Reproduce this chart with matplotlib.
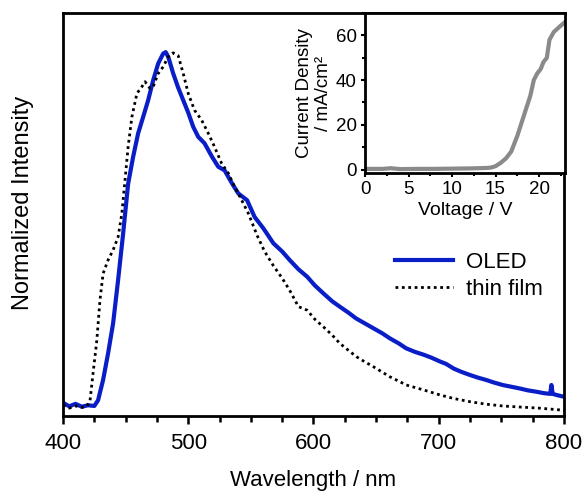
import matplotlib
matplotlib.use("Agg")
import matplotlib.pyplot as plt
from matplotlib.ticker import MultipleLocator

plt.rcParams['font.family'] = ['Liberation Sans', 'DejaVu Sans']

# OLED electroluminescence spectrum (normalized)
oled_wl = [400, 405, 410, 415, 420, 425, 428, 432, 436, 440, 444, 448, 452, 456, 460, 464,
           468, 472, 476, 480, 482, 484, 488, 492, 496, 500, 504, 508, 513, 519, 524, 529,
           535, 540, 547, 553, 560, 568, 575, 581, 588, 595, 601, 608, 615, 621, 628, 634,
           641, 648, 655, 661, 668, 674, 681, 688, 694, 701, 706, 712, 718, 725, 731, 738,
           744, 751, 758, 765, 771, 778, 784, 789, 790, 791, 795, 800]
oled_int = [0.015, 0.005, 0.012, 0.004, 0.008, 0.006, 0.022, 0.079, 0.154, 0.238, 0.36, 0.49,
            0.63, 0.706, 0.772, 0.818, 0.865, 0.921, 0.968, 0.996, 1.0, 0.987, 0.94, 0.90,
            0.865, 0.83, 0.79, 0.762, 0.744, 0.706, 0.678, 0.668, 0.631, 0.603, 0.584, 0.537,
            0.505, 0.463, 0.44, 0.416, 0.39, 0.369, 0.345, 0.322, 0.30, 0.285, 0.268, 0.252,
            0.238, 0.224, 0.210, 0.196, 0.182, 0.168, 0.158, 0.150, 0.142, 0.131, 0.124, 0.111,
            0.102, 0.093, 0.086, 0.079, 0.072, 0.065, 0.060, 0.055, 0.050, 0.046, 0.042, 0.040,
            0.065, 0.040, 0.036, 0.032]

# Thin-film photoluminescence spectrum (normalized)
film_wl = [400, 405, 410, 415, 419, 421.6, 424, 427, 429.5, 432, 436, 440, 444, 447, 449.5,
           452, 455, 459, 463, 465.5, 469.5, 472, 476, 480, 484, 488, 492, 496, 500, 505,
           510.7, 516, 521, 526.7, 532, 537, 542.7, 548, 555, 561, 568, 575, 581, 588, 595,
           601, 608, 615, 621, 628, 634.5, 641, 648, 655, 661, 668, 674, 681, 688, 701, 712,
           725, 738, 751, 765, 780, 790, 800]
film_int = [0.008, 0.0, 0.006, 0.002, 0.005, 0.022, 0.098, 0.19, 0.303, 0.378, 0.416, 0.444,
            0.481, 0.547, 0.64, 0.734, 0.818, 0.884, 0.903, 0.917, 0.898, 0.903, 0.94, 0.959,
            0.987, 0.998, 0.99, 0.94, 0.884, 0.837, 0.809, 0.772, 0.734, 0.687, 0.66, 0.622,
            0.584, 0.547, 0.485, 0.44, 0.40, 0.365, 0.331, 0.285, 0.275, 0.25, 0.228, 0.205,
            0.182, 0.162, 0.144, 0.130, 0.116, 0.101, 0.088, 0.076, 0.065, 0.058, 0.051, 0.037,
            0.027, 0.018, 0.011, 0.006, 0.003, 0.0, -0.003, -0.006]

# Inset: current density vs voltage
volt = [0, 2, 3, 4, 6, 8, 10, 12, 13, 14, 14.5, 15, 15.6, 16.2, 16.8, 17.5, 18, 18.5,
        19, 19.4, 19.8, 20.2, 20.5, 20.9, 21.2, 21.7, 22.4, 23]
jdens = [0.3, 0.3, 0.6, 0.2, 0.3, 0.3, 0.4, 0.5, 0.6, 0.7, 0.9, 1.5, 3, 5, 8, 15, 21, 27,
         33, 40, 43, 45, 48, 50, 58, 61.5, 64, 66]

fig = plt.figure(figsize=(5.85, 4.94), dpi=100)
ax = fig.add_axes([0.1077, 0.158, 0.8563, 0.8157])

ax.plot(oled_wl, oled_int, color='#0a1ec8', lw=3.0, label='OLED')
ax.plot(film_wl, film_int, color='black', lw=2.0, linestyle=(0, (1, 1.3)), label='thin film')

ax.set_xlim(400, 800)
ax.set_ylim(-0.022, 1.11)
ax.set_yticks([])
ax.xaxis.set_major_locator(MultipleLocator(100))
ax.xaxis.set_minor_locator(MultipleLocator(25))
ax.tick_params(axis='x', which='major', direction='out', length=6, width=1.8, labelsize=16, pad=6)
ax.tick_params(axis='x', which='minor', direction='out', length=4, width=1.8)
for s in ax.spines.values():
    s.set_linewidth(2.0)
ax.set_xlabel('Wavelength / nm', fontsize=16, labelpad=12)
ax.set_ylabel('Normalized Intensity', fontsize=17)
ax.yaxis.set_label_coords(-0.058, 0.53)

leg = ax.legend(loc='upper left', bbox_to_anchor=(0.645, 0.43), frameon=False, fontsize=16,
                handlelength=2.6, handletextpad=0.6, labelspacing=0.3, borderaxespad=0)

# inset
axi = fig.add_axes([0.624, 0.650, 0.342, 0.3237])
axi.plot(volt, jdens, color='#8a8a8a', lw=3)
axi.set_xlim(0, 23)
axi.set_ylim(-1.5, 70)
axi.set_xticks([0, 5, 10, 15, 20])
axi.set_yticks([0, 20, 40, 60])
axi.xaxis.set_minor_locator(MultipleLocator(2.5))
axi.yaxis.set_minor_locator(MultipleLocator(10))
axi.tick_params(which='major', direction='out', length=3, width=1.5, labelsize=13.5, pad=3)
axi.tick_params(which='minor', direction='out', length=2, width=1.5)
for s in axi.spines.values():
    s.set_linewidth(2.0)
axi.set_xlabel('Voltage / V', fontsize=14, labelpad=3)
axi.set_ylabel('Current Density\n/ mA/cm²', fontsize=13.5, labelpad=3, linespacing=1.1)

fig.savefig('out.png', dpi=100)
